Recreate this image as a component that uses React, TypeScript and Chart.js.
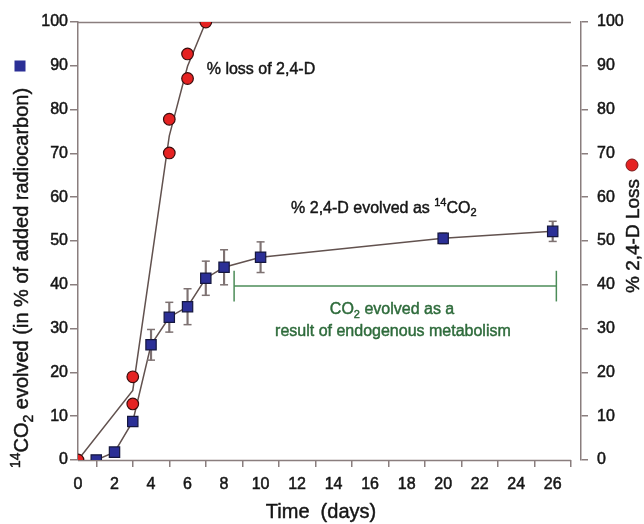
import React, { useEffect, useRef } from 'react';
import { Chart, registerables } from 'chart.js';

Chart.register(...registerables);

// ---- data ----
const co2Days = [1, 2, 3, 4, 5, 6, 7, 8, 10, 20, 26];
const co2Values = [0, 1.8, 8.8, 26.3, 32.6, 35.0, 41.5, 44.0, 46.3, 50.6, 52.2];
const co2Errors = [0, 0, 0, 3.5, 3.4, 4.1, 3.9, 4.0, 3.5, 1.2, 2.3];

const lossDays = [0, 3, 3, 5, 5, 6, 6, 7];
const lossValues = [0, 19.0, 12.8, 77.8, 70.1, 92.7, 87.1, 100];

const lossFitDays = [0, 3, 5, 6, 7];
const lossFitValues = [0, 15.9, 74.0, 89.9, 100];

const endoSpanDays = [8.55, 26.2];
const endoLevel = 39.7;
const endoCapHalf = 3.5;

const xTickValues = [0, 2, 4, 6, 8, 10, 12, 14, 16, 18, 20, 22, 24, 26];
const yTickValues = [0, 10, 20, 30, 40, 50, 60, 70, 80, 90, 100];
const xAxisEnd = 27;

// ---- styles ----
const FONT = '"Liberation Sans", Arial, Helvetica, sans-serif';
const AXIS = '#8a7e7e';
const SERIES_LINE = '#62524f';
const RED = '#e52222';
const RED_EDGE = '#3a0c0c';
const BLUE = '#2b2f96';
const BLUE_EDGE = '#15173f';
const ERR = '#7e7272';
const GREEN = '#4c8c58';
const GREEN_TEXT = '#2e6b3b';
const TEXT = '#161616';

type Seg = { t: string; sup?: boolean; sub?: boolean };

function segFont(s: Seg, size: number) {
  const sz = s.sup || s.sub ? Math.round(size * 0.68) : size;
  return `${sz}px ${FONT}`;
}

function drawRich(
  ctx: CanvasRenderingContext2D,
  segs: Seg[],
  x: number,
  y: number,
  size: number,
  color: string,
  align: 'left' | 'center'
) {
  let w = 0;
  for (const s of segs) {
    ctx.font = segFont(s, size);
    w += ctx.measureText(s.t).width;
  }
  let cx = align === 'center' ? x - w / 2 : x;
  const base = y + size * 0.36;
  ctx.fillStyle = color;
  ctx.strokeStyle = color;
  ctx.lineWidth = 0.45;
  ctx.lineJoin = 'round';
  ctx.textBaseline = 'alphabetic';
  ctx.textAlign = 'left';
  for (const s of segs) {
    ctx.font = segFont(s, size);
    const dy = s.sup ? -size * 0.42 : s.sub ? size * 0.24 : 0;
    ctx.fillText(s.t, cx, base + dy);
    ctx.strokeText(s.t, cx, base + dy);
    cx += ctx.measureText(s.t).width;
  }
}

const framePlugin = {
  id: 'frameLines',
  beforeDatasetsDraw(chart: any) {
    const { ctx, scales } = chart;
    const x = scales.x;
    const y = scales.y;
    ctx.save();
    ctx.strokeStyle = AXIS;
    ctx.lineWidth = 1.5;
    const x0 = x.getPixelForValue(0);
    const x1 = x.getPixelForValue(xAxisEnd);
    for (const v of [0, 100]) {
      const py = Math.round(y.getPixelForValue(v)) + 0.5;
      ctx.beginPath();
      ctx.moveTo(x0, py);
      ctx.lineTo(x1, py);
      ctx.stroke();
    }
    ctx.restore();
  },
};

const textPlugin = {
  id: 'annotations',
  afterDraw(chart: any) {
    const { ctx, scales } = chart;
    const x = scales.x;
    const y = scales.y;
    const px = (v: number) => x.getPixelForValue(v);
    const py = (v: number) => y.getPixelForValue(v);
    ctx.save();

    drawRich(ctx, [{ t: '% loss of 2,4-D' }], px(7.05), py(89.5), 16, TEXT, 'left');
    drawRich(
      ctx,
      [{ t: '% 2,4-D evolved as ' }, { t: '14', sup: true }, { t: 'CO' }, { t: '2', sub: true }],
      px(11.67),
      py(57.8),
      16,
      TEXT,
      'left'
    );
    drawRich(
      ctx,
      [{ t: 'CO' }, { t: '2', sub: true }, { t: ' evolved as a' }],
      px(17.2),
      py(34.6),
      16,
      GREEN_TEXT,
      'center'
    );
    drawRich(ctx, [{ t: 'result of endogenous metabolism' }], px(17.25), py(29.7), 16, GREEN_TEXT, 'center');

    // x axis title
    drawRich(ctx, [{ t: 'Time  (days)' }], 321, 511, 20, TEXT, 'center');

    // left axis title
    ctx.save();
    ctx.translate(21, 278);
    ctx.rotate(-Math.PI / 2);
    drawRich(
      ctx,
      [{ t: '14', sup: true }, { t: 'CO' }, { t: '2', sub: true }, { t: ' evolved (in % of added radiocarbon)' }],
      0,
      0,
      20,
      TEXT,
      'center'
    );
    ctx.restore();
    // left key marker
    ctx.fillStyle = BLUE;
    ctx.fillRect(14.5, 60.5, 11, 11);

    // right axis title
    ctx.save();
    ctx.translate(632, 236);
    ctx.rotate(-Math.PI / 2);
    drawRich(ctx, [{ t: '% 2,4-D Loss' }], 0, 0, 19, TEXT, 'center');
    ctx.restore();
    ctx.beginPath();
    ctx.arc(632, 165, 6, 0, Math.PI * 2);
    ctx.fillStyle = RED;
    ctx.fill();
    ctx.lineWidth = 1;
    ctx.strokeStyle = '#7a1a1a';
    ctx.stroke();

    ctx.restore();
  },
};

export default function App() {
  const ref = useRef<HTMLCanvasElement | null>(null);

  useEffect(() => {
    if (!ref.current) return;
    Chart.defaults.font.family = FONT;

    const errIdx = co2Days.map((_, i) => i).filter((i) => co2Errors[i] > 0);
    const errBars = errIdx.map((i) => ({
      x: co2Days[i],
      y: [co2Values[i] - co2Errors[i], co2Values[i] + co2Errors[i]],
    }));
    const errCaps = errIdx.flatMap((i) => [
      { x: co2Days[i], y: co2Values[i] - co2Errors[i] },
      { x: co2Days[i], y: co2Values[i] + co2Errors[i] },
    ]);

    const tickOpts = (padding: number) => ({
      font: { size: 16, family: FONT },
      color: TEXT,
      textStrokeColor: TEXT,
      textStrokeWidth: 0.5,
      padding,
    });

    const chart = new Chart(ref.current, {
      type: 'line',
      data: {
        datasets: [
          {
            type: 'line',
            label: 'loss points',
            data: lossDays.map((d, i) => ({ x: d, y: lossValues[i] })),
            showLine: false,
            pointStyle: 'circle',
            pointRadius: 5.8,
            pointBackgroundColor: RED,
            pointBorderColor: RED_EDGE,
            pointBorderWidth: 1.2,
            xAxisID: 'x',
            yAxisID: 'y1',
            order: 0,
          },
          {
            type: 'line',
            label: 'co2 points',
            data: co2Days.map((d, i) => ({ x: d, y: co2Values[i] })),
            showLine: false,
            pointStyle: 'rect',
            pointRadius: 7.3,
            pointBackgroundColor: BLUE,
            pointBorderColor: BLUE_EDGE,
            pointBorderWidth: 1.2,
            xAxisID: 'x',
            yAxisID: 'y',
            order: 1,
          },
          {
            type: 'line',
            label: 'error caps',
            data: errCaps,
            showLine: false,
            pointStyle: 'line',
            pointRadius: 4,
            pointBorderColor: ERR,
            pointBorderWidth: 1.5,
            xAxisID: 'x',
            yAxisID: 'y',
            order: 2,
          },
          {
            type: 'bar',
            label: 'error bars',
            data: errBars as any,
            backgroundColor: ERR,
            barThickness: 1.5,
            xAxisID: 'x',
            yAxisID: 'y',
            order: 3,
          },
          {
            type: 'line',
            label: 'co2 line',
            data: co2Days.map((d, i) => ({ x: d, y: co2Values[i] })),
            borderColor: SERIES_LINE,
            borderWidth: 1.5,
            pointRadius: 0,
            tension: 0,
            xAxisID: 'x',
            yAxisID: 'y',
            order: 4,
          },
          {
            type: 'line',
            label: 'loss fit',
            data: lossFitDays.map((d, i) => ({ x: d, y: lossFitValues[i] })),
            borderColor: SERIES_LINE,
            borderWidth: 1.5,
            pointRadius: 0,
            tension: 0,
            xAxisID: 'x',
            yAxisID: 'y1',
            order: 5,
          },
          {
            type: 'line',
            label: 'endogenous',
            data: endoSpanDays.map((d) => ({ x: d, y: endoLevel })),
            borderColor: GREEN,
            borderWidth: 1.5,
            pointStyle: 'line',
            pointRotation: 90,
            pointRadius: endoCapHalf * 4.38,
            pointBorderColor: GREEN,
            pointBorderWidth: 1.5,
            xAxisID: 'x',
            yAxisID: 'y',
            order: 6,
          },
        ],
      },
      options: {
        responsive: false,
        animation: false,
        events: [],
        layout: { padding: { top: 22, left: 0, right: 0, bottom: 0 } },
        plugins: {
          legend: { display: false },
          tooltip: { enabled: false },
          title: { display: false },
        },
        scales: {
          x: {
            type: 'linear',
            min: 0,
            max: 27.55,
            offset: false,
            afterBuildTicks: (s: any) => {
              s.ticks = xTickValues.map((v) => ({ value: v }));
            },
            afterFit: (s: any) => {
              s.height = 64;
            },
            border: { display: false },
            grid: {
              drawOnChartArea: false,
              drawTicks: true,
              tickLength: 7,
              color: AXIS,
              lineWidth: 1.5,
            },
            ticks: { ...tickOpts(8), maxRotation: 0, autoSkip: false },
          },
          y: {
            type: 'linear',
            position: 'left',
            min: 0,
            max: 100,
            afterBuildTicks: (s: any) => {
              s.ticks = yTickValues.map((v) => ({ value: v }));
            },
            afterFit: (s: any) => {
              s.width = 78;
            },
            border: { display: true, color: AXIS, width: 1.5 },
            grid: {
              drawOnChartArea: false,
              drawTicks: true,
              tickLength: 8,
              color: AXIS,
              lineWidth: 1.5,
            },
            ticks: { ...tickOpts(2), autoSkip: false },
          },
          y1: {
            type: 'linear',
            position: 'right',
            min: 0,
            max: 100,
            afterBuildTicks: (s: any) => {
              s.ticks = yTickValues.map((v) => ({ value: v }));
            },
            afterFit: (s: any) => {
              s.width = 63;
            },
            border: { display: true, color: AXIS, width: 1.5 },
            grid: {
              drawOnChartArea: false,
              drawTicks: true,
              tickLength: 7,
              color: AXIS,
              lineWidth: 1.5,
            },
            ticks: { ...tickOpts(9), autoSkip: false },
          },
        },
      } as any,
      plugins: [framePlugin, textPlugin],
    });

    return () => chart.destroy();
  }, []);

  return (
    <div style={{ position: 'absolute', left: 0, top: 0, width: 644, height: 524, background: '#fff' }}>
      <canvas ref={ref} width={644} height={524} style={{ display: 'block' }} />
    </div>
  );
}
